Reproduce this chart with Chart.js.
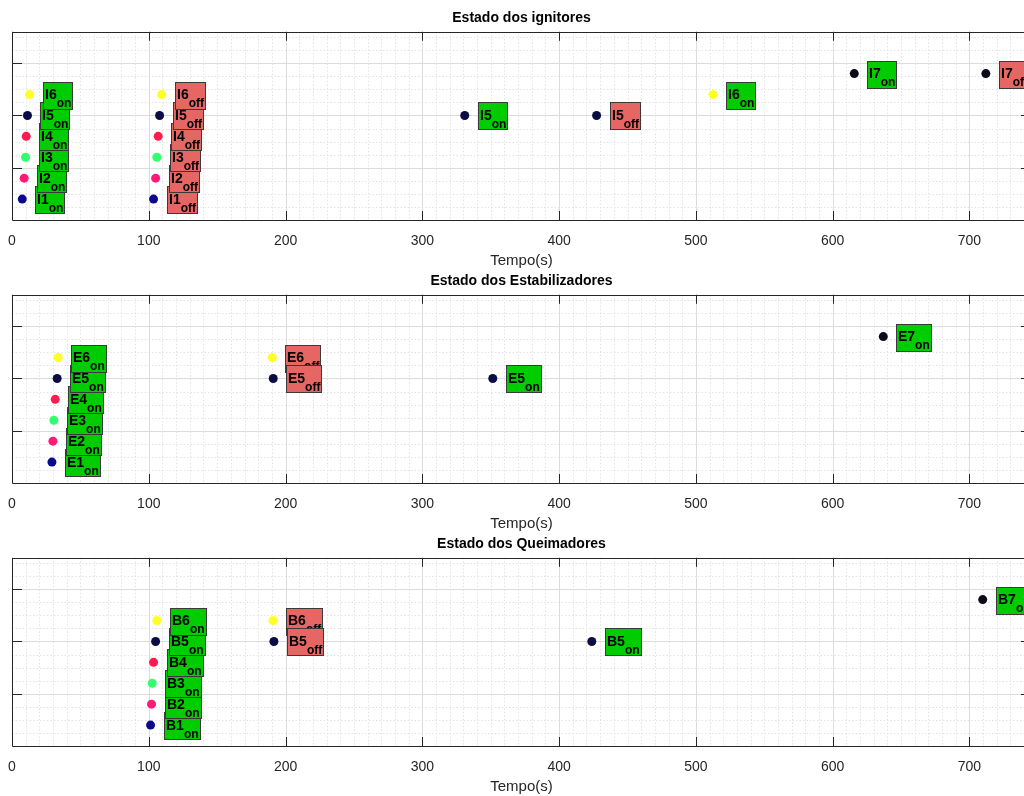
<!DOCTYPE html>
<html lang="pt">
<head>
<meta charset="UTF-8">
<title>Estado dos ignitores, estabilizadores e queimadores</title>
<style>
  html, body { margin: 0; padding: 0; background: #fff; overflow: hidden; }
  .plot { position: absolute; left: 0; width: 1031px; height: 270px; }
</style>
</head>
<body>
<div class="plot" style="top:0px"><canvas id="ign" width="1031" height="270"></canvas></div>
<div class="plot" style="top:263px"><canvas id="est" width="1031" height="270"></canvas></div>
<div class="plot" style="top:526px"><canvas id="que" width="1031" height="270"></canvas></div>
<script src="https://cdn.jsdelivr.net/npm/chart.js"></script>
<script>
const xTicks = [0, 100, 200, 300, 400, 500, 600, 700];

// ignitores
const ignNames  = ['I1','I2','I3','I4','I5','I6','I1','I2','I3','I4','I5','I6','I5','I5','I6','I7','I7'];
const ignStates = ['on','on','on','on','on','on','off','off','off','off','off','off','on','off','on','on','off'];
const ignTimes  = [7.5, 8.9, 9.9, 10.4, 11.3, 12.8, 103.5, 105, 105.9, 106.9, 107.9, 109.4, 331, 427.4, 512.5, 615.8, 712];
const ignLevels = [0.4, 0.8, 1.2, 1.6, 2.0, 2.4, 0.4, 0.8, 1.2, 1.6, 2.0, 2.4, 2.0, 2.0, 2.4, 2.8, 2.8];

// estabilizadores
const estNames  = ['E1','E2','E3','E4','E5','E6','E6','E5','E5','E7'];
const estStates = ['on','on','on','on','on','on','off','off','on','on'];
const estTimes  = [29.2, 29.9, 30.6, 31.6, 33, 33.8, 190.3, 191, 351.5, 637];
const estLevels = [0.4, 0.8, 1.2, 1.6, 2.0, 2.4, 2.4, 2.0, 2.0, 2.8];

// queimadores
const queNames  = ['B1','B2','B3','B4','B5','B6','B6','B5','B5','B7'];
const queStates = ['on','on','on','on','on','on','off','off','on','on'];
const queTimes  = [101.3, 102, 102.5, 103.5, 105, 105.9, 190.8, 191.5, 423.9, 709.7];
const queLevels = [0.4, 0.8, 1.2, 1.6, 2.0, 2.4, 2.4, 2.0, 2.0, 2.8];

// cor de cada dispositivo (1..7)
const deviceColors = ['#0a0a8c', '#ff1a75', '#33ff6e', '#ff1a4f', '#0c0c44', '#ffff26', '#0b0b1a'];

const FONT = "'Liberation Sans', Arial, Helvetica, sans-serif";
const AXIS = '#262626';

// grade, moldura e marcas de escala no estilo do MATLAB
const frame = {
  id: 'frame',
  beforeDatasetsDraw(chart) {
    const {ctx, chartArea: a, scales: {x, y}} = chart;
    ctx.save();
    ctx.lineWidth = 1;
    // grade menor pontilhada
    ctx.strokeStyle = '#e3e3e3';
    ctx.setLineDash([1.5, 2]);
    ctx.beginPath();
    for (let v = 10; v < x.max; v += 10) {
      if (v % 100 === 0) continue;
      const px = Math.round(x.getPixelForValue(v)) + 0.5;
      ctx.moveTo(px, a.top); ctx.lineTo(px, a.bottom);
    }
    for (let v = 0.25; v < y.max; v += 0.25) {
      if (Math.abs(v - Math.round(v)) < 1e-6) continue;
      const py = Math.round(y.getPixelForValue(v)) + 0.5;
      ctx.moveTo(a.left, py); ctx.lineTo(a.right, py);
    }
    ctx.stroke();
    // grade principal
    ctx.setLineDash([]);
    ctx.strokeStyle = '#dcdcdc';
    ctx.beginPath();
    xTicks.forEach(v => {
      if (v === 0) return;
      const px = Math.round(x.getPixelForValue(v)) + 0.5;
      ctx.moveTo(px, a.top); ctx.lineTo(px, a.bottom);
    });
    [1, 2, 3].forEach(v => {
      const py = Math.round(y.getPixelForValue(v)) + 0.5;
      ctx.moveTo(a.left, py); ctx.lineTo(a.right, py);
    });
    ctx.stroke();
    // moldura
    ctx.strokeStyle = AXIS;
    ctx.beginPath();
    ctx.rect(Math.round(a.left) + 0.5, Math.round(a.top) + 0.5,
             Math.round(a.right - a.left), Math.round(a.bottom - a.top));
    xTicks.forEach(v => {
      const px = Math.round(x.getPixelForValue(v)) + 0.5;
      ctx.moveTo(px, a.bottom); ctx.lineTo(px, a.bottom - 9);
      ctx.moveTo(px, a.top); ctx.lineTo(px, a.top + 9);
    });
    [1, 2, 3].forEach(v => {
      const py = Math.round(y.getPixelForValue(v)) + 0.5;
      ctx.moveTo(a.left, py); ctx.lineTo(a.left + 10, py);
      ctx.moveTo(a.right, py); ctx.lineTo(a.right - 10, py);
    });
    ctx.stroke();
    ctx.restore();
  }
};

// caixas de texto com subscrito (on/off)
const tags = {
  id: 'tags',
  afterDatasetsDraw(chart) {
    const {ctx, scales: {x, y}} = chart;
    const ds = chart.data.datasets[0];
    ctx.save();
    ds.data.forEach((p, i) => {
      const px = x.getPixelForValue(p.x);
      const py = y.getPixelForValue(p.y);
      const name = ds.names[i], state = ds.states[i];
      ctx.font = 'bold 14px ' + FONT;
      const w1 = ctx.measureText(name).width;
      ctx.font = 'bold 12px ' + FONT;
      const w2 = ctx.measureText(state).width;
      const bx = Math.round(px + 13) + 0.5;
      const by = Math.round(py - 13) + 0.5;
      const bw = Math.round(w1 + w2 + 3);
      ctx.fillStyle = state === 'on' ? '#00cc00' : '#e66663';
      ctx.strokeStyle = '#3a3a3a';
      ctx.lineWidth = 1;
      ctx.fillRect(bx, by, bw, 27);
      ctx.strokeRect(bx, by, bw, 27);
      ctx.fillStyle = '#000';
      ctx.textBaseline = 'alphabetic';
      ctx.textAlign = 'left';
      ctx.font = 'bold 14px ' + FONT;
      ctx.fillText(name, bx + 1.5, py + 4.5);
      ctx.font = 'bold 12px ' + FONT;
      ctx.fillText(state, bx + 1.5 + w1, py + 12.5);
    });
    ctx.restore();
  }
};

function makePlot(id, title, names, states, times, levels) {
  const points = times.map((t, i) => ({x: t, y: levels[i]}));
  const colors = names.map(n => deviceColors[parseInt(n.slice(1), 10) - 1]);
  new Chart(document.getElementById(id), {
    type: 'scatter',
    data: {
      datasets: [{
        data: points,
        names: names,
        states: states,
        pointRadius: 4.5,
        pointBorderWidth: 0,
        pointBackgroundColor: colors,
        clip: false
      }]
    },
    options: {
      responsive: false,
      animation: false,
      devicePixelRatio: 1,
      layout: { autoPadding: false, padding: { left: 12, right: 0, top: 0, bottom: 0 } },
      plugins: {
        legend: { display: false },
        tooltip: { enabled: false },
        title: {
          display: true,
          text: title,
          color: '#000',
          font: { family: FONT, size: 14, weight: 'bold' },
          padding: { top: 10, bottom: 5 }
        }
      },
      scales: {
        x: {
          type: 'linear',
          min: 0,
          max: 745,
          afterBuildTicks: s => { s.ticks = xTicks.map(v => ({value: v})); },
          afterFit: s => { s.height = 50; s.paddingLeft = 0; s.paddingRight = 0; },
          grid: { display: false },
          border: { display: false },
          ticks: {
            color: AXIS,
            font: { family: FONT, size: 14 },
            padding: 5,
            maxRotation: 0,
            autoSkip: false
          },
          title: {
            display: true,
            text: 'Tempo(s)',
            color: AXIS,
            font: { family: FONT, size: 15 },
            padding: { top: 0, bottom: 0 }
          }
        },
        y: { min: 0, max: 3.6, display: false }
      }
    },
    plugins: [frame, tags]
  });
}

makePlot('ign', 'Estado dos ignitores', ignNames, ignStates, ignTimes, ignLevels);
makePlot('est', 'Estado dos Estabilizadores', estNames, estStates, estTimes, estLevels);
makePlot('que', 'Estado dos Queimadores', queNames, queStates, queTimes, queLevels);
</script>
</body>
</html>
